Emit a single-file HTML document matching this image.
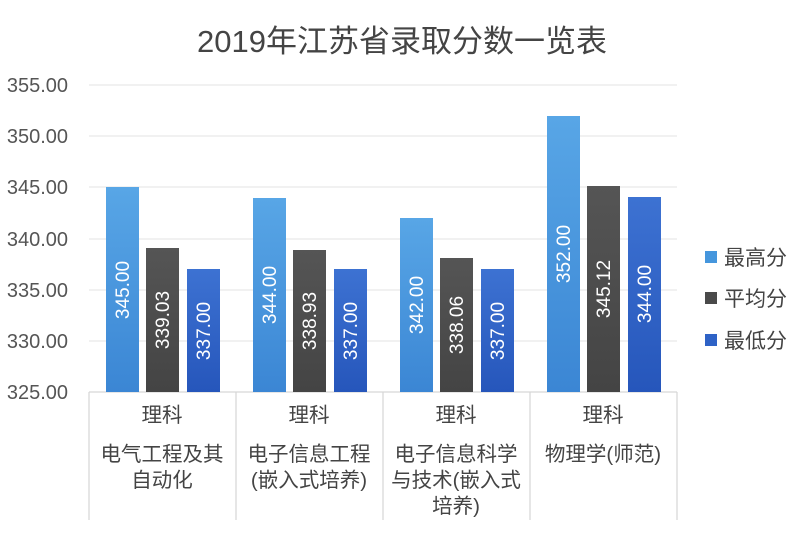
<!DOCTYPE html>
<html><head><meta charset="utf-8"><style>
html,body{margin:0;padding:0;background:#fff}
svg{display:block}
text{font-family:"Liberation Sans","Noto Sans CJK SC",sans-serif}
</style></head><body>
<svg width="800" height="533" viewBox="0 0 800 533" xmlns="http://www.w3.org/2000/svg">
<defs>
<linearGradient id="gA" x1="0" y1="0" x2="0" y2="1"><stop offset="0" stop-color="#58a6e6"/><stop offset="1" stop-color="#3b86d4"/></linearGradient>
<linearGradient id="gB" x1="0" y1="0" x2="0" y2="1"><stop offset="0" stop-color="#555"/><stop offset="1" stop-color="#444"/></linearGradient>
<linearGradient id="gC" x1="0" y1="0" x2="0" y2="1"><stop offset="0" stop-color="#3d72d2"/><stop offset="1" stop-color="#2656bb"/></linearGradient>
</defs>
<rect width="800" height="533" fill="#fff"/>
<text x="402" y="52" font-size="31" fill="#444" text-anchor="middle">2019年江苏省录取分数一览表</text>
<g stroke="#e3e3e3" stroke-width="1">
<line x1="89" y1="85" x2="677" y2="85"/><line x1="89" y1="136" x2="677" y2="136"/>
<line x1="89" y1="187" x2="677" y2="187"/><line x1="89" y1="239" x2="677" y2="239"/>
<line x1="89" y1="290" x2="677" y2="290"/><line x1="89" y1="341" x2="677" y2="341"/>
</g>
<g stroke="#d6d6d6" stroke-width="1.2">
<line x1="89" y1="392" x2="677" y2="392"/>
<line x1="89" y1="392" x2="89" y2="520"/><line x1="236" y1="392" x2="236" y2="520"/>
<line x1="383" y1="392" x2="383" y2="520"/><line x1="530" y1="392" x2="530" y2="520"/>
<line x1="677" y1="392" x2="677" y2="520"/>
</g>
<g font-size="20" fill="#555" text-anchor="end">
<text x="68" y="92">355.00</text><text x="68" y="143">350.00</text><text x="68" y="194">345.00</text>
<text x="68" y="246">340.00</text><text x="68" y="297">335.00</text><text x="68" y="348">330.00</text>
<text x="68" y="399">325.00</text>
</g>
<g>
<rect x="106" y="187" width="33" height="205" fill="url(#gA)"/>
<rect x="146" y="248" width="33" height="144" fill="url(#gB)"/>
<rect x="187" y="269" width="33" height="123" fill="url(#gC)"/>
<rect x="253" y="198" width="33" height="194" fill="url(#gA)"/>
<rect x="293" y="250" width="33" height="142" fill="url(#gB)"/>
<rect x="334" y="269" width="33" height="123" fill="url(#gC)"/>
<rect x="400" y="218" width="33" height="174" fill="url(#gA)"/>
<rect x="440" y="258" width="33" height="134" fill="url(#gB)"/>
<rect x="481" y="269" width="33" height="123" fill="url(#gC)"/>
<rect x="547" y="116" width="33" height="276" fill="url(#gA)"/>
<rect x="587" y="186" width="33" height="206" fill="url(#gB)"/>
<rect x="628" y="197" width="33" height="195" fill="url(#gC)"/>
</g>
<g font-size="19" fill="#fff" text-anchor="middle">
<text transform="translate(129,290) rotate(-90)">345.00</text>
<text transform="translate(169,320) rotate(-90)">339.03</text>
<text transform="translate(210,331) rotate(-90)">337.00</text>
<text transform="translate(276,295) rotate(-90)">344.00</text>
<text transform="translate(316,321) rotate(-90)">338.93</text>
<text transform="translate(357,331) rotate(-90)">337.00</text>
<text transform="translate(423,305) rotate(-90)">342.00</text>
<text transform="translate(463,325) rotate(-90)">338.06</text>
<text transform="translate(504,331) rotate(-90)">337.00</text>
<text transform="translate(570,254) rotate(-90)">352.00</text>
<text transform="translate(610,289) rotate(-90)">345.12</text>
<text transform="translate(651,294) rotate(-90)">344.00</text>
</g>
<g font-size="20.5" fill="#444" text-anchor="middle">
<text x="162" y="422">理科</text><text x="309" y="422">理科</text><text x="456" y="422">理科</text><text x="603" y="422">理科</text>
<text x="162" y="461">电气工程及其</text><text x="162" y="487">自动化</text>
<text x="309" y="461">电子信息工程</text><text x="309" y="487">(嵌入式培养)</text>
<text x="456" y="461">电子信息科学</text><text x="456" y="487">与技术(嵌入式</text><text x="456" y="513">培养)</text>
<text x="603" y="461">物理学(师范)</text>
</g>
<g font-size="21" fill="#444">
<rect x="705" y="251" width="12" height="12" fill="#4596dd"/><text x="724" y="265">最高分</text>
<rect x="705" y="292" width="12" height="12" fill="#4a4a4a"/><text x="724" y="306">平均分</text>
<rect x="705" y="334" width="12" height="12" fill="#2e62c6"/><text x="724" y="348">最低分</text>
</g>
</svg>
</body></html>
